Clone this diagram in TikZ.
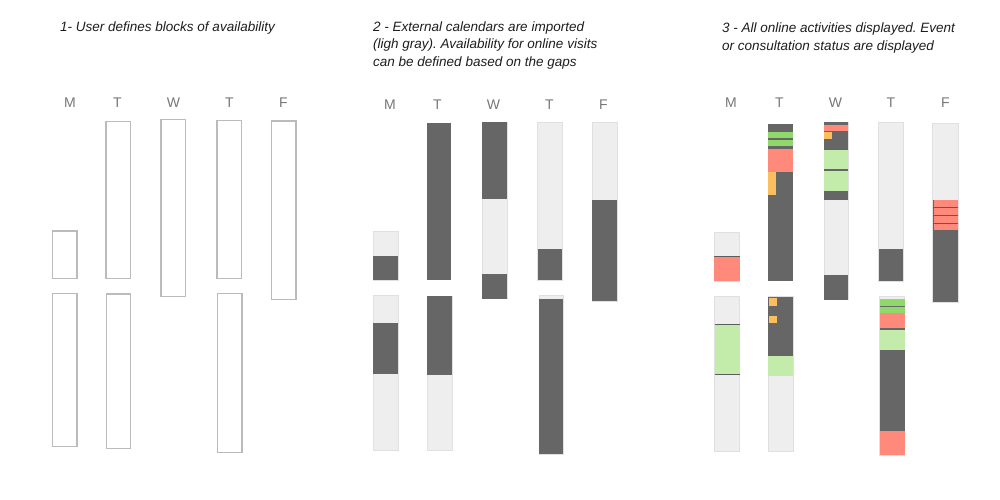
\documentclass[tikz,border=0pt]{standalone}
\usepackage{fontspec}
\setmainfont{Liberation Sans}
\frenchspacing
\definecolor{outl}{HTML}{BBBBBB}
\definecolor{dk}{HTML}{666666}
\definecolor{lt}{HTML}{EEEEEE}
\definecolor{ltb}{HTML}{E0E0E0}
\definecolor{gbr}{HTML}{8FD96B}
\definecolor{glt}{HTML}{C3EBAA}
\definecolor{rd}{HTML}{FF897A}
\definecolor{org}{HTML}{FBBF5F}
\definecolor{ttl}{HTML}{1E1E1E}
\definecolor{day}{HTML}{777777}
\tikzset{
  title/.style={anchor=base west, inner sep=0pt, align=left, text=ttl,
    font=\fontsize{13.5}{17.5}\selectfont\itshape},
  daylbl/.style={anchor=base, inner sep=0pt, text=day, font=\fontsize{14}{17}\selectfont},
  slot/.style={draw=outl, line width=1.4pt},
  ltseg/.style={fill=lt, draw=ltb, line width=0.8pt},
  dkseg/.style={fill=dk},
  sep/.style={draw=dk!90!black, line width=0.9pt},
}
\begin{document}
\begin{tikzpicture}[x=1pt,y=-1pt]
\useasboundingbox (0,0) rectangle (1000,500);
\fill[white] (0,0) rectangle (1000,500);

% ---------- titles ----------
\node[title] (t1) at (60,32) {1- User defines blocks of availability};
\node[title] (t2) at (373,66.5) {2 - External calendars are imported\\(ligh gray). Availability for online visits\\can be defined based on the gaps};
\node[title] (t3) at (722,50.5) {3 - All online activities displayed. Event\\or consultation status are displayed};

% ---------- panel 1 ----------
\foreach \n/\x/\l in {a/70/M,b/117.5/T,c/173.5/W,d/229.5/T,e/283.5/F}
  \node[daylbl] (p1\n) at (\x,108) {\l};
\draw[slot] (52.3,231) rectangle (77,278.7);
\draw[slot] (52.3,293.7) rectangle (77,446.7);
\draw[slot] (105.9,121.3) rectangle (130.5,278.7);
\draw[slot] (106.3,294) rectangle (130.7,448.3);
\draw[slot] (161,119.7) rectangle (185.7,296.7);
\draw[slot] (216.8,120.3) rectangle (241.2,278.7);
\draw[slot] (217.5,293.7) rectangle (242,452.3);
\draw[slot] (271.3,121) rectangle (296,299.7);

% ---------- panel 2 ----------
\foreach \n/\x/\l in {a/390/M,b/437.5/T,c/493.5/W,d/549.5/T,e/603.5/F}
  \node[daylbl] (p2\n) at (\x,110) {\l};
% Mon
\draw[ltseg] (373.3,231.7) rectangle (398,280.3);
\fill[dk] (373.3,256) rectangle (398,280.3);
\draw[ltseg] (373.3,295.3) rectangle (398,450);
\fill[dk] (373.3,323.3) rectangle (398,374);
% Tue
\fill[dk] (426.7,123.3) rectangle (451.3,280.3);
\draw[ltseg] (427.3,296) rectangle (452,450.7);
\fill[dk] (427.3,296) rectangle (452,374.7);
% Wed
\draw[ltseg] (482.3,122) rectangle (507,298.7);
\fill[dk] (482.3,122) rectangle (507,199.3);
\fill[dk] (482.3,274.3) rectangle (507,298.7);
% Thu
\draw[ltseg] (537.7,122.3) rectangle (562.3,280.3);
\fill[dk] (537.7,249) rectangle (562.3,280.3);
\draw[ltseg] (539,295.3) rectangle (563.3,454.3);
\fill[dk] (539,298.7) rectangle (563.3,454.3);
% Fri
\draw[ltseg] (592.3,122.3) rectangle (617,301.3);
\fill[dk] (592.3,200) rectangle (617,301.3);

% ---------- panel 3 ----------
\foreach \n/\x/\l in {a/731/M,b/779.5/T,c/835.5/W,d/891/T,e/945.5/F}
  \node[daylbl] (p3\n) at (\x,107.5) {\l};
% Mon top
\draw[ltseg] (714,232.3) rectangle (739.7,281);
\fill[rd] (714,256.7) rectangle (739.7,281);
\draw[sep] (714,256.7) -- (739.7,256.7);
% Mon bottom
\draw[ltseg] (714,296) rectangle (739.7,451);
\fill[glt] (714.8,324.3) rectangle (739.7,374.3);
\draw[sep] (714.8,324.3) -- (739.7,324.3);
\draw[sep] (714.8,374.3) -- (739.7,374.3);
% Tue top
\fill[dk] (768.3,124.3) rectangle (792.7,281);
\fill[gbr] (768.3,131.7) rectangle (792.7,138.3);
\fill[gbr] (768.3,140) rectangle (792.7,145.7);
\fill[rd] (768.3,149.3) rectangle (792.7,171.7);
\fill[org] (768.3,171.7) rectangle (776,195);
% Tue bottom
\draw[ltseg] (768.3,296.7) rectangle (793,451.7);
\fill[dk] (768.3,296.7) rectangle (793,355.7);
\fill[org] (769.3,298.3) rectangle (776.7,305.7);
\fill[org] (769.3,315.7) rectangle (776.7,323);
\fill[glt] (768.3,355.7) rectangle (793,376);
% Wed
\draw[ltseg] (824,122.3) rectangle (848.3,299.7);
\fill[dk] (824,122.3) rectangle (848.3,200);
\fill[rd] (824,125) rectangle (848.3,130.7);
\fill[org] (824,131.7) rectangle (831.7,139.3);
\fill[glt] (824,150) rectangle (848.3,169.3);
\fill[glt] (824,170.7) rectangle (848.3,191);
\fill[dk] (824,275) rectangle (848.3,299.7);
% Thu top
\draw[ltseg] (878.7,122.3) rectangle (903.3,281);
\fill[dk] (878.7,249.3) rectangle (903.3,281);
% Thu bottom
\draw[ltseg] (879.7,296) rectangle (904.7,455);
\fill[dk] (879.7,299.3) rectangle (904.7,455);
\fill[gbr] (879.7,299.3) rectangle (904.7,306);
\fill[gbr] (879.7,306.9) rectangle (904.7,313);
\fill[rd] (879.7,313) rectangle (904.7,320.5);
\fill[rd] (879.7,321.4) rectangle (904.7,327.7);
\fill[glt] (879.7,330) rectangle (904.7,350.3);
\fill[rd] (879.7,431.3) rectangle (904.7,455);
% Fri
\draw[ltseg] (932.7,123) rectangle (958.3,302);
\fill[dk] (932.7,200) rectangle (958.3,302);
\fill[rd] (933.8,200) rectangle (958.3,230);
\foreach \yy in {207.7,215.7,223}
  \draw[sep] (933.8,\yy) -- (958.3,\yy);
\end{tikzpicture}
\end{document}
